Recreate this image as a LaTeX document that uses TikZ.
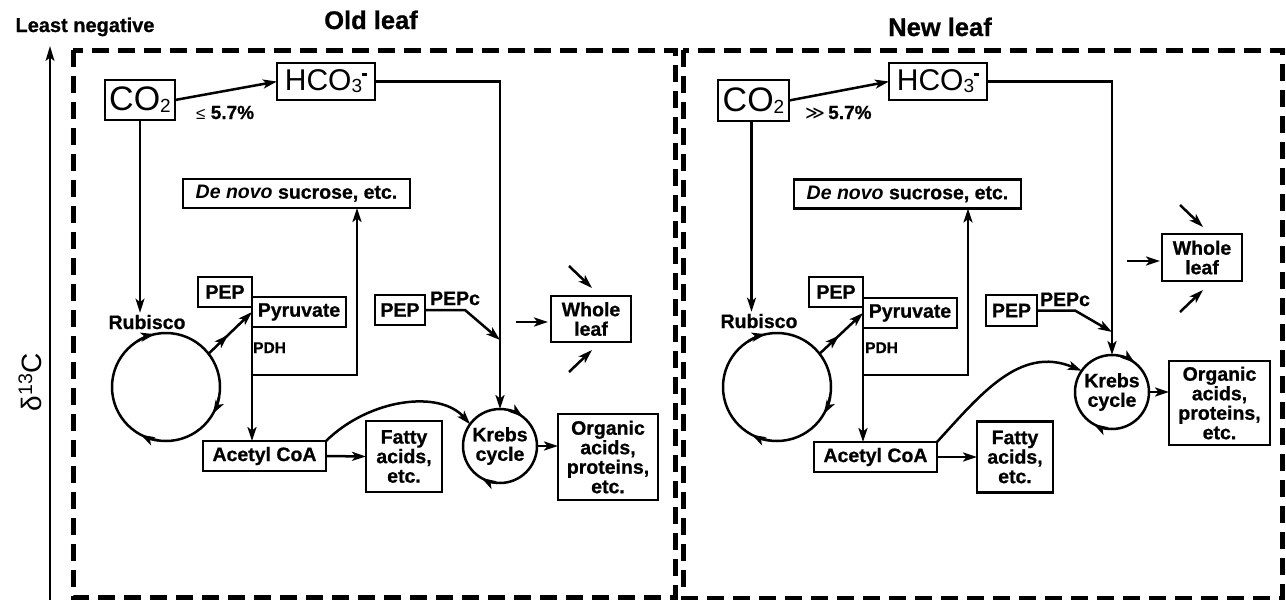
\documentclass[tikz,border=0pt]{standalone}
\usepackage{fontspec}
\setmainfont{Liberation Sans}[BoldFeatures={FakeBold=0.8}]
\newfontfamily\djv{DejaVu Sans}
\usetikzlibrary{arrows.meta,calc,decorations.markings}
\newcommand\fs{\fontsize{19.5}{19.5}\selectfont\bfseries}
\newcommand\mysub[1]{\raisebox{-2pt}{\fontsize{19}{19}\selectfont #1}}
\newcommand\cotwo{{\fontsize{34}{34}\selectfont\mdseries CO\mysub{2}}}
\newcommand\hcothree{{\fontsize{30}{30}\selectfont\mdseries HCO\mysub{3}\raisebox{15pt}{\rule{5pt}{2.6pt}}}}
\tikzset{
  box/.style={draw, line width=2.5pt, inner sep=0pt, outer sep=0pt, align=center, font=\fs},
  cyc/.style={draw, circle, line width=2.5pt, inner sep=0pt, outer sep=0pt, align=center, font=\fs},
  lbl/.style={inner sep=0pt, font=\fs},
  arr/.style={line width=2.5pt, -{Stealth[length=14pt,width=9pt,inset=3.5pt]}},
  midarr/.style={postaction={decorate}, decoration={markings, mark=at position 0.45 with {\arrow{Stealth[length=14pt,width=9pt,inset=3.5pt]}}}},
  dashbox/.style={line width=5pt, dash pattern=on 17pt off 9pt},
}
\begin{document}
\begin{tikzpicture}[x=1pt,y=1pt]
\useasboundingbox (0,0) rectangle (1286,-600);
\fill[white] (0,0) rectangle (1286,-600);

% axis and titles
\coordinate (axb) at (50,-600);
\coordinate (axt) at (50,-46);
\draw[line width=1.8pt, -{Stealth[length=15pt,width=9pt,inset=3.5pt]}] (axb) -- (axt);
\node[anchor=base, inner sep=0pt, font=\fontsize{20}{20}\selectfont\bfseries] (least) at (85,-32) {Least negative};
\node[rotate=90, inner sep=0pt, font=\fontsize{28}{28}\selectfont] (d13) at (30,-382) {δ\textsuperscript{13}C};
\node[anchor=base, inner sep=0pt, font=\fontsize{25.5}{25.5}\selectfont\bfseries] (t1) at (371,-29) {Old leaf};
\node[anchor=base, inner sep=0pt, font=\fontsize{25.5}{25.5}\selectfont\bfseries] (t2) at (940,-36) {New leaf};

% frames
\draw[dashbox] (73,-50) rectangle (675,-597);
\draw[dashbox] (683,-50) rectangle (1282,-598);

% ================= OLD LEAF =================
\node[box, minimum width=70pt, minimum height=40pt] (co2a) at (140,-100) {\cotwo};
\node[box, minimum width=98pt, minimum height=37pt] (hcoa) at (326,-81.5) {\hcothree};
\node[box, minimum width=227pt, minimum height=29pt] (dna) at (296.5,-193.5) {\textit{De novo} sucrose, etc.};
\node[box, minimum width=54pt, minimum height=30pt] (pep1a) at (225,-292) {PEP};
\node[box, minimum width=94pt, minimum height=30pt] (pyra) at (299,-312) {Pyruvate};
\node[box, minimum width=123pt, minimum height=30pt] (aca) at (264.5,-456) {Acetyl CoA};
\node[box, minimum width=76pt, minimum height=71pt] (faa) at (404,-456.5) {Fatty\\acids,\\etc.};
\node[box, minimum width=50pt, minimum height=30pt] (pep2a) at (400,-310) {PEP};
\node[box, minimum width=80pt, minimum height=46pt] (wla) at (591,-319) {Whole\\leaf};
\node[box, minimum width=100pt, minimum height=86pt] (oaa) at (608,-457) {Organic\\acids,\\proteins,\\etc.};
\node[cyc, minimum size=74pt] (kca) at (500,-446) {Krebs\\cycle};
\node[cyc, minimum size=108pt] (rca) at (166,-387) {};
\node[lbl, anchor=base, inner sep=2pt] (ruba) at (147,-329) {Rubisco};
\node[lbl, anchor=base west, font=\fontsize{15.5}{15.5}\selectfont\bfseries] (pdha) at (253,-353) {PDH};
\node[lbl, anchor=base] (pepca) at (455,-305) {PEPc};
\node[lbl, anchor=base west, font=\fontsize{19}{19}\selectfont] (pcta) at (196,-119) {{\fontsize{17}{17}\selectfont\mdseries ≤} \bfseries 5.7\%};

\coordinate (jna) at (252,-375);
\coordinate (dnja) at (357,-375);
\coordinate (pctna) at (465,-310);
\coordinate (pcja) at (500,-340);

\draw[arr] (co2a.east) -- (hcoa.west);
\draw[arr] (hcoa.east) -| (kca.north);
\draw[arr] (co2a.south) -- (co2a.south |- ruba.north);
\draw[arr] (pyra.south west) |- (dnja) -- (dnja |- dna.south);
\draw[arr] (jna) -- (jna |- aca.north);
\draw[arr] (pep2a.east) -- (pctna) -- (pcja);
\draw[arr, midarr] (rca.38) -- (pyra.west);
\draw[arr] (aca.east) -- (faa.west);
\draw[arr] (aca.north east) .. controls (370,-398) and (440,-390) .. (kca.144);
\draw[arr] (kca.east) -- (kca.east -| oaa.west);
\draw[arr] (kca.77) arc[start angle=77, end angle=52, radius=37pt];
\draw[arr] (kca.265) arc[start angle=265, end angle=240, radius=37pt];
\draw[arr] (rca.122) arc[start angle=122, end angle=102, radius=54pt];
\draw[arr] (rca.-10) arc[start angle=-10, end angle=-30, radius=54pt];
\draw[arr] (rca.262) arc[start angle=262, end angle=242, radius=54pt];
\draw[arr] ($(wla.west)+(-35,-3)$) -- ($(wla.west)+(-3,-3)$);
\draw[arr] ($(wla.north)+(-22,30)$) -- ($(wla.north)+(1,8)$);
\draw[arr] ($(wla.south)+(-22,-30)$) -- ($(wla.south)+(1,-8)$);

% ================= NEW LEAF =================
\node[box, minimum width=71pt, minimum height=41pt] (co2b) at (753.5,-100.5) {\cotwo};
\node[box, minimum width=98pt, minimum height=37pt] (hcob) at (938,-81.5) {\hcothree};
\node[box, minimum width=227pt, minimum height=29pt] (dnb) at (907.5,-194) {\textit{De novo} sucrose, etc.};
\node[box, minimum width=54pt, minimum height=30pt] (pep1b) at (836,-292) {PEP};
\node[box, minimum width=94pt, minimum height=30pt] (pyrb) at (910,-313) {Pyruvate};
\node[box, minimum width=123pt, minimum height=30pt] (acb) at (875.5,-457) {Acetyl CoA};
\node[box, minimum width=76pt, minimum height=71pt] (fab) at (1015,-457) {Fatty\\acids,\\etc.};
\node[box, minimum width=51pt, minimum height=31pt] (pep2b) at (1011.5,-310.5) {PEP};
\node[box, minimum width=80pt, minimum height=47pt] (wlb) at (1202,-257.5) {Whole\\leaf};
\node[box, minimum width=101pt, minimum height=84pt] (oab) at (1219.5,-403) {Organic\\acids,\\proteins,\\etc.};
\node[cyc, minimum size=74pt] (kcb) at (1112,-392) {Krebs\\cycle};
\node[cyc, minimum size=108pt] (rcb) at (777,-387) {};
\node[lbl, anchor=base, inner sep=2pt] (rubb) at (759,-328) {Rubisco};
\node[lbl, anchor=base west, font=\fontsize{15.5}{15.5}\selectfont\bfseries] (pdhb) at (865,-353) {PDH};
\node[lbl, anchor=base] (pepcb) at (1065,-306) {PEPc};
\node[lbl, anchor=base west, font=\fontsize{19}{19}\selectfont] (pctb) at (805,-119) {{\djv\fontsize{19}{19}\selectfont\mdseries ≫}\,\bfseries 5.7\%};

\coordinate (jnb) at (863,-375);
\coordinate (dnjb) at (968,-375);
\coordinate (pctnb) at (1075,-310.5);
\coordinate (pcjb) at (1112,-332);

\draw[arr] (co2b.east) -- (hcob.west);
\draw[arr] (hcob.east) -| (kcb.north);
\draw[arr] ([xshift=-2pt]co2b.south) -- ([xshift=-2pt]co2b.south |- rubb.north);
\draw[arr] (pyrb.south west) |- (dnjb) -- (dnjb |- dnb.south);
\draw[arr] (jnb) -- (jnb |- acb.north);
\draw[arr] (pep2b.east) -- (pctnb) -- (pcjb);
\draw[arr, midarr] (rcb.38) -- (pyrb.west);
\draw[arr] (acb.east) -- (fab.west);
\draw[arr] (acb.north east) .. controls (980,-395) and (1020,-345) .. (kcb.145);
\draw[arr] (kcb.east) -- (kcb.east -| oab.west);
\draw[arr] (kcb.77) arc[start angle=77, end angle=52, radius=37pt];
\draw[arr] (kcb.265) arc[start angle=265, end angle=240, radius=37pt];
\draw[arr] (rcb.122) arc[start angle=122, end angle=102, radius=54pt];
\draw[arr] (rcb.-10) arc[start angle=-10, end angle=-30, radius=54pt];
\draw[arr] (rcb.262) arc[start angle=262, end angle=242, radius=54pt];
\draw[arr] ($(wlb.west)+(-35,-3.5)$) -- ($(wlb.west)+(-2,-3.5)$);
\draw[arr] ($(wlb.north)+(-22,29)$) -- ($(wlb.north)+(1,7)$);
\draw[arr] ($(wlb.south)+(-22,-31)$) -- ($(wlb.south)+(1,-9)$);
\end{tikzpicture}
\end{document}
